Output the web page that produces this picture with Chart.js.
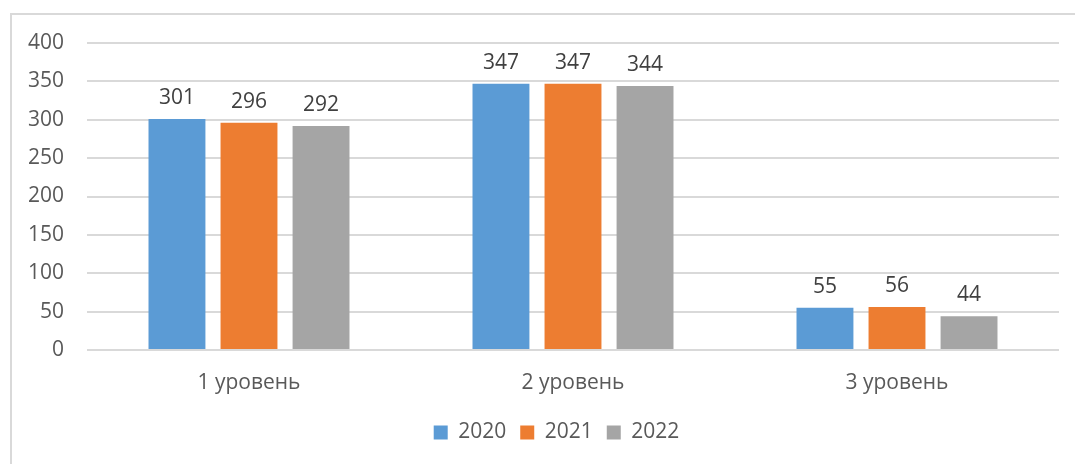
<!DOCTYPE html>
<html>
<head>
<meta charset="utf-8">
<script src="https://cdn.jsdelivr.net/npm/chart.js@4"></script>
<style>
  body { margin: 0; background: #fff; }
  #frame {
    position: absolute; left: 10px; top: 13px;
    width: 1070px; height: 460px;
    border-left: 2px solid #d9d9d9; border-top: 2px solid #d9d9d9;
  }
  #chart { display: block; }
</style>
</head>
<body>
<div id="frame"><canvas id="chart" width="1063" height="451"></canvas></div>
<script>
const categories = ["1 уровень", "2 уровень", "3 уровень"];
const years = ["2020", "2021", "2022"];
const values2020 = [301, 347, 55];
const values2021 = [296, 347, 56];
const values2022 = [292, 344, 44];
const colors = ["#5b9bd5", "#ed7d31", "#a5a5a5"];

Chart.defaults.font.family = "'Open Sans', sans-serif";
Chart.defaults.font.size = 21;
Chart.defaults.color = "#595959";

// value labels above the bars
const barLabels = {
  id: "barLabels",
  afterDatasetsDraw(chart) {
    const ctx = chart.ctx;
    ctx.save();
    ctx.font = "21px 'Open Sans', sans-serif";
    ctx.fillStyle = "#404040";
    ctx.textAlign = "center";
    ctx.textBaseline = "middle";
    chart.data.datasets.forEach((ds, i) => {
      chart.getDatasetMeta(i).data.forEach((bar, j) => {
        ctx.fillText(ds.data[j], bar.x, bar.y - 21);
      });
    });
    ctx.restore();
  }
};

// legend sits a little right of the canvas centre in the original
const legendShift = {
  id: "legendShift",
  afterLayout(chart) {
    chart.legend.left += 21;
    chart.legend.right += 21;
  }
};

new Chart(document.getElementById("chart"), {
  type: "bar",
  data: {
    labels: categories,
    datasets: [values2020, values2021, values2022].map((d, i) => ({
      label: years[i],
      data: d,
      backgroundColor: colors[i],
      borderWidth: 0,
      barPercentage: 0.79,
      categoryPercentage: 0.667
    }))
  },
  options: {
    responsive: false,
    animation: false,
    layout: { padding: { top: 0, right: 16, left: 0, bottom: 13 } },
    plugins: {
      legend: {
        position: "bottom",
        labels: { boxWidth: 14, boxHeight: 14, padding: 14, color: "#595959" }
      },
      tooltip: { enabled: false }
    },
    scales: {
      x: {
        grid: { display: false },
        border: { display: false },
        ticks: { padding: 12 },
        afterFit(axis) { axis.height = 58; }
      },
      y: {
        min: 0, max: 400,
        ticks: { stepSize: 50, padding: 23 },
        grid: { color: "#d9d9d9", lineWidth: 2, drawTicks: false },
        border: { display: false },
        afterFit(axis) { axis.width = 75; axis.paddingTop = 28; }
      }
    }
  },
  plugins: [barLabels, legendShift]
});
</script>
</body>
</html>
